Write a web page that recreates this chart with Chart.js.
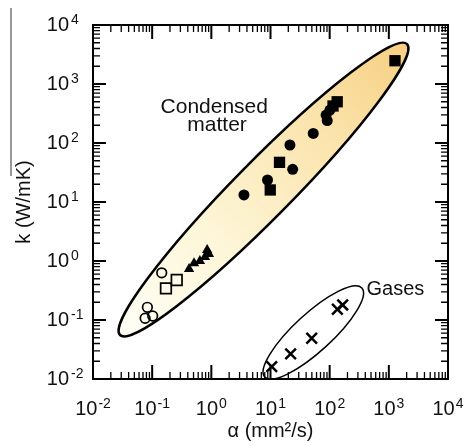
<!DOCTYPE html>
<html>
<head>
<meta charset="utf-8">
<script src="https://cdn.jsdelivr.net/npm/chart.js@4.4.1/dist/chart.umd.min.js"></script>
<style>
  html, body { margin: 0; padding: 0; background: #fff; }
  #wrap { width: 465px; height: 446px; position: relative; }
</style>
</head>
<body>
<div id="wrap"><canvas id="chart"></canvas></div>
<script>
// values: [alpha (mm2/s), k (W/mK)]
const filledCircles = [[3.56, 13.2], [8.9, 23.6], [23.7, 35.8], [21.3, 92.5], [52.8, 145], [87, 298], [91, 240], [101, 362]];
const filledSquares = [[9.9, 16], [14.2, 47], [114, 424], [134, 500], [1270, 2480]];
const filledTriangles = [[0.42, 0.73], [0.51, 0.92], [0.64, 1.0], [0.78, 1.17], [0.85, 1.53], [0.91, 1.31]];
const openCircles = [[0.145, 0.63], [0.083, 0.164], [0.076, 0.107], [0.102, 0.117]];
const openSquares = [[0.171, 0.344], [0.26, 0.476]];
const gases = [[10.5, 0.0162], [21.9, 0.0266], [49.7, 0.049], [135, 0.152], [166, 0.18]];

const tickExps = [-2, -1, 0, 1, 2, 3, 4];
const minorMantissas = [2, 3, 4, 5, 6, 7, 8, 9];

const FONT = '"Liberation Sans", Arial, sans-serif';

// region outlines (tips in data units, half width in decades)
const regions = {
  condensed: { tips: [[0.0286, 0.0557], [2030, 4760]], half: 0.48, lw: 2.5, fill: true },
  gas: { tips: [[8.0, 0.0108], [350, 0.35]], half: 0.32, lw: 1.5, fill: false }
};

const toXY = arr => arr.map(([x, y]) => ({ x, y }));

const regionPlugin = {
  id: 'regions',
  beforeDatasetsDraw(chart) {
    const { ctx, scales: { x, y } } = chart;
    for (const key in regions) {
      const r = regions[key];
      const p1 = [x.getPixelForValue(r.tips[0][0]), y.getPixelForValue(r.tips[0][1])];
      const p2 = [x.getPixelForValue(r.tips[1][0]), y.getPixelForValue(r.tips[1][1])];
      const cx = (p1[0] + p2[0]) / 2, cy = (p1[1] + p2[1]) / 2;
      const semiA = Math.hypot(p2[0] - p1[0], p2[1] - p1[1]) / 2;
      const semiB = y.getPixelForValue(1) - y.getPixelForValue(Math.pow(10, r.half));
      const ang = Math.atan2(p2[1] - p1[1], p2[0] - p1[0]);
      ctx.save();
      ctx.beginPath();
      ctx.ellipse(cx, cy, semiA, semiB, ang, 0, Math.PI * 2);
      if (r.fill) {
        const g = ctx.createLinearGradient(p1[0], p1[1], p2[0], p2[1]);
        g.addColorStop(0, '#fffff6');
        g.addColorStop(0.35, '#fdf5d6');
        g.addColorStop(0.7, '#fbe4ad');
        g.addColorStop(1, '#f7cf82');
        ctx.fillStyle = g;
        ctx.fill();
      }
      ctx.lineWidth = r.lw;
      ctx.strokeStyle = '#000';
      ctx.stroke();
      ctx.restore();
    }
  }
};

const axesPlugin = {
  id: 'axesDeco',
  afterDraw(chart) {
    const { ctx, chartArea: a, scales: { x, y } } = chart;
    ctx.save();
    ctx.strokeStyle = '#000';
    // inward ticks on all four sides
    const tick = (px, len, lw, horiz) => {
      ctx.lineWidth = lw;
      ctx.beginPath();
      if (horiz) {
        ctx.moveTo(px, a.bottom); ctx.lineTo(px, a.bottom - len);
        ctx.moveTo(px, a.top); ctx.lineTo(px, a.top + len);
      } else {
        ctx.moveTo(a.left, px); ctx.lineTo(a.left + len, px);
        ctx.moveTo(a.right, px); ctx.lineTo(a.right - len, px);
      }
      ctx.stroke();
    };
    tickExps.forEach((e, i) => {
      tick(x.getPixelForValue(Math.pow(10, e)), 14, 2, true);
      tick(y.getPixelForValue(Math.pow(10, e)), 13, 2, false);
      if (i < tickExps.length - 1) {
        minorMantissas.forEach(m => {
          tick(x.getPixelForValue(m * Math.pow(10, e)), 7, 1.3, true);
          tick(y.getPixelForValue(m * Math.pow(10, e)), 7, 1.3, false);
        });
      }
    });
    ctx.lineWidth = 2;
    ctx.strokeRect(a.left, a.top, a.right - a.left, a.bottom - a.top);

    // tick labels 10^n
    ctx.fillStyle = '#111';
    ctx.textBaseline = 'alphabetic';
    tickExps.forEach(e => {
      const exp = String(e);
      // x axis
      const px = x.getPixelForValue(Math.pow(10, e));
      ctx.font = '20px ' + FONT;
      const w10 = ctx.measureText('10').width;
      ctx.font = '14px ' + FONT;
      const we = ctx.measureText(exp).width;
      const start = px - (w10 + 1 + we) / 2;
      ctx.textAlign = 'left';
      ctx.font = '20px ' + FONT;
      ctx.fillText('10', start, a.bottom + 36);
      ctx.font = '14px ' + FONT;
      ctx.fillText(exp, start + w10 + 1, a.bottom + 29);
      // y axis
      const py = y.getPixelForValue(Math.pow(10, e));
      ctx.textAlign = 'right';
      ctx.font = '20px ' + FONT;
      ctx.fillText('10', a.left - 24, py + 6);
      ctx.textAlign = 'left';
      ctx.font = '14px ' + FONT;
      ctx.fillText(exp, a.left - 22, py - 1);
    });

    // region labels
    ctx.font = '21px ' + FONT;
    ctx.textAlign = 'center';
    ctx.fillText('Condensed', x.getPixelForValue(1.12), y.getPixelForValue(322));
    ctx.fillText('matter', x.getPixelForValue(1.25), y.getPixelForValue(160));
    ctx.font = '20px ' + FONT;
    ctx.textAlign = 'left';
    ctx.fillText('Gases', x.getPixelForValue(420), y.getPixelForValue(0.265));

    // stray rule left of the y title
    ctx.strokeStyle = '#777';
    ctx.lineWidth = 1.5;
    ctx.beginPath();
    ctx.moveTo(11, 8);
    ctx.lineTo(11, 176);
    ctx.stroke();
    ctx.restore();
  }
};

const black = '#000';
new Chart('chart', {
  type: 'scatter',
  data: {
    datasets: [
      { data: toXY(filledCircles), pointStyle: 'circle', pointRadius: 5.5, backgroundColor: black, borderColor: black, borderWidth: 0 },
      { data: toXY(filledSquares), pointStyle: 'rect', pointRadius: 8, backgroundColor: black, borderColor: black, borderWidth: 0 },
      { data: toXY(filledTriangles), pointStyle: 'triangle', pointRadius: 6, backgroundColor: black, borderColor: black, borderWidth: 0 },
      { data: toXY(openCircles), pointStyle: 'circle', pointRadius: 4.8, backgroundColor: 'rgba(255,255,255,0)', borderColor: black, borderWidth: 1.7 },
      { data: toXY(openSquares), pointStyle: 'rect', pointRadius: 7.5, backgroundColor: 'rgba(255,255,255,0)', borderColor: black, borderWidth: 1.7 },
      { data: toXY(gases), pointStyle: 'crossRot', pointRadius: 7.5, borderColor: black, borderWidth: 2.5 }
    ]
  },
  options: {
    responsive: true,
    maintainAspectRatio: false,
    animation: false,
    layout: { padding: { top: 25, right: 17, left: 0, bottom: 0 } },
    plugins: { legend: { display: false }, tooltip: { enabled: false } },
    scales: {
      x: {
        type: 'logarithmic', min: 0.01, max: 10000,
        ticks: { display: false }, grid: { display: false }, border: { display: false },
        title: { display: true, text: 'α (mm²/s)', color: '#111', font: { family: FONT, size: 20 }, padding: { top: 0, bottom: 3 } },
        afterFit(s) { s.height = 67; }
      },
      y: {
        type: 'logarithmic', min: 0.01, max: 10000,
        ticks: { display: false }, grid: { display: false }, border: { display: false },
        title: { display: true, text: 'k (W/mK)', color: '#111', font: { family: FONT, size: 20 }, padding: { top: 12, bottom: 0 } },
        afterFit(s) { s.width = 93; }
      }
    }
  },
  plugins: [regionPlugin, axesPlugin]
});
</script>
</body>
</html>
